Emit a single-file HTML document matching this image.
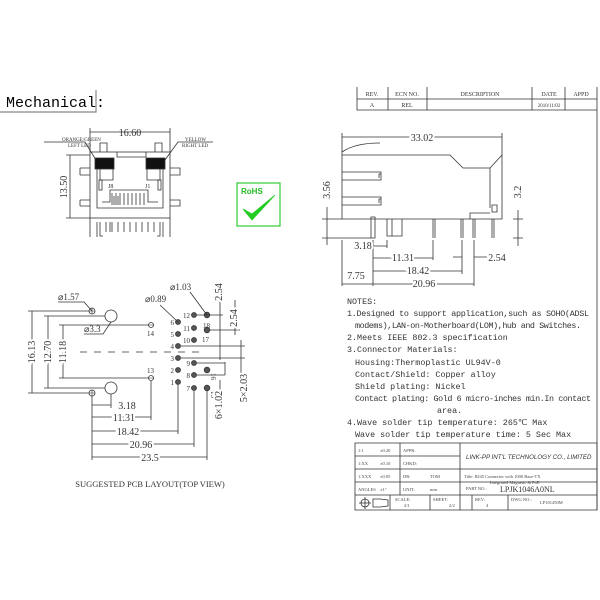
<!DOCTYPE html><html><head><style>body{margin:0;background:#fff}svg{display:block}</style></head><body>
<svg width="600" height="600" viewBox="0 0 600 600" xmlns="http://www.w3.org/2000/svg" font-family="Liberation Serif, serif" fill="none" stroke="#333" stroke-width="0.8">
<!-- header -->
<text x="6" y="107" font-family="Liberation Mono, monospace" font-size="15" fill="#000" stroke="none">Mechanical:</text>
<path d="M0 112H96V90" stroke="#888" stroke-width="1.2"/>
<!-- rev table -->
<path d="M357 87V110H597M357 99H597M388 87V110M427 87V110M532 87V110M565 87V110M597 87V510"/>
<g font-size="6" fill="#333" stroke="none" text-anchor="middle">
<text x="372" y="96">REV.</text><text x="407" y="96">ECN NO.</text><text x="480" y="96">DESCRIPTION</text><text x="549" y="96">DATE</text><text x="581" y="96">APPD</text>
<text x="372" y="107">A</text><text x="407" y="107">REL</text><text x="549" y="107" font-size="5">2010/11/02</text></g>
<!-- front view -->
<g>
<path d="M90 132H170M90 128V152M170 128V152"/>
<text x="130" y="136" font-size="10" fill="#333" stroke="none" text-anchor="middle" style="paint-order:stroke" stroke="#fff" stroke-width="4">16.60</text>
<text x="62" y="141" font-size="5" fill="#333" stroke="none">ORANGE/GREEN</text><text x="68" y="147" font-size="5" fill="#333" stroke="none">LEFT LED</text>
<path d="M44 142H85L96 160"/>
<text x="185" y="141" font-size="5" fill="#333" stroke="none">YELLOW</text><text x="182" y="147" font-size="5" fill="#333" stroke="none">RIGHT LED</text>
<path d="M213 142H178L165 160"/>
<path d="M100 152V143H107V152M155 152V143H162V152"/>
<rect x="90" y="152" width="80" height="66"/>
<path d="M117 152V157H146V152M97 158V208H163V158"/>
<rect x="95" y="158" width="19" height="11" fill="#111"/><rect x="146" y="158" width="19" height="11" fill="#111"/>
<path d="M100 169V180H113V169M147 169V180H160V169"/>
<rect x="99" y="180" width="3" height="10"/><rect x="158" y="180" width="3" height="10"/>
<path d="M102 202H110V190H148V202H158"/>
<path d="M112 193V205M116 193V205M120 193V205M124 193V205M128 193V205M132 193V205M136 193V205M140 193V205M144 193V205M114 196V205M118 196V205"/>
<path d="M80 168H90M80 175H90M80 168V175M80 200H90M80 206H90M80 200V206M170 168H180V175H170M170 200H180V206H170"/>
<path d="M90 218V237M170 218V237M97 222V237M163 222V237M100 222V236H103M160 222V236H157M106 222V232M112 222V232M118 222V232M124 222V232M130 222V232M136 222V232M142 222V232M148 222V232M154 222V232M110 222V232"/>
<text x="108" y="188" font-size="6" fill="#333" stroke="none">J8</text><text x="145" y="188" font-size="6" fill="#333" stroke="none">J1</text>
<path d="M70 155V218M66 155H90M66 218H90"/>
<text transform="translate(67,187) rotate(-90)" font-size="10" fill="#333" stroke="none" text-anchor="middle">13.50</text>
</g>
<!-- RoHS -->
<rect x="237" y="183" width="43" height="43" stroke="#3c3" stroke-width="1.2"/>
<text x="241" y="194" font-size="8" font-weight="bold" font-family="Liberation Sans, sans-serif" fill="#2b2" stroke="none">RoHS</text>
<path d="M243 209L252 220L275 195L252 214Z" fill="#2c2" stroke="#2c2"/>
<!-- side view -->
<g>
<path d="M342 137H502M342 133V219M502 133V155"/>
<text x="422" y="141" font-size="10" fill="#333" stroke="#fff" stroke-width="4" style="paint-order:stroke" text-anchor="middle">33.02</text>
<path d="M342 152Q355 143 380 143"/>
<path d="M342 155H450L463 168H490L502 155V219H342M490 168V208M470 219V213H490M492 205V212H497V205Z"/>
<path d="M342 172H381V180H342M342 197H381V205H342M381 174H379V178M381 199H379V203"/>
<path d="M371 217V238H375V217Z"/>
<path d="M387 219V236H402V219M392 219V236H397"/>
<path d="M433 219V238M435 219V238M461 219V238M463 219V238M473 219V238M475 219V238M492 219V238M494 219V238"/>
<path d="M322 219H342M322 238H371M327 207V245M513 219H523M513 238H523M518 210V246"/>
<text transform="translate(330,190) rotate(-90)" font-size="10" fill="#333" stroke="none" text-anchor="middle">3.56</text>
<text transform="translate(521,192) rotate(-90)" font-size="10" fill="#333" stroke="none" text-anchor="middle">3.2</text>
<path d="M373 240V286M342 240V286M387 240V248M433 240V260M462 240V274M474 240V286"/>
<path d="M373 246H387M373 258H433M373 271H462M474 257H505M453 257H462M342 284H373M373 284H474"/>
<g font-size="10" fill="#333" stroke="#fff" stroke-width="4" style="paint-order:stroke" text-anchor="middle">
<text x="363" y="249">3.18</text><text x="403" y="261">11.31</text><text x="418" y="274">18.42</text><text x="497" y="261">2.54</text><text x="356" y="279">7.75</text><text x="424" y="287">20.96</text></g>
</g>
<!-- PCB layout -->
<g>
<g fill="none">
<circle cx="92" cy="311" r="3"/><circle cx="111" cy="316" r="6"/><circle cx="151" cy="325" r="2.5"/>
<circle cx="151" cy="378" r="2.5"/><circle cx="111" cy="388" r="6"/><circle cx="92" cy="393" r="3"/>
</g>
<path d="M89 311H95M92 308V314M148 325H154M148 378H154M89 393H95M92 390V396" stroke-width="0.6"/>
<path d="M80 352H205" stroke-dasharray="7,7"/>
<g id="h" fill="#555">
<circle cx="178" cy="322" r="2.5"/><circle cx="178" cy="334" r="2.5"/><circle cx="178" cy="346" r="2.5"/><circle cx="178" cy="358" r="2.5"/><circle cx="178" cy="370" r="2.5"/><circle cx="178" cy="382" r="2.5"/>
<circle cx="194" cy="315" r="2.5"/><circle cx="194" cy="328" r="2.5"/><circle cx="194" cy="340" r="2.5"/><circle cx="194" cy="363" r="2.5"/><circle cx="194" cy="375" r="2.5"/><circle cx="194" cy="388" r="2.5"/>
<circle cx="207" cy="315" r="2.8"/><circle cx="207" cy="330" r="2.8"/><circle cx="207" cy="370" r="2.8"/><circle cx="207" cy="388" r="2.8"/>
</g>
<g font-size="7" fill="#333" stroke="none" text-anchor="end">
<text x="174" y="325">6</text><text x="174" y="337">5</text><text x="174" y="349">4</text><text x="174" y="361">3</text><text x="174" y="373">2</text><text x="174" y="385">1</text>
<text x="190" y="318">12</text><text x="190" y="331">11</text><text x="190" y="343">10</text><text x="190" y="366">9</text><text x="190" y="378">8</text><text x="190" y="391">7</text>
</g>
<g font-size="7" fill="#333" stroke="none">
<text x="203" y="328">18</text><text x="202" y="342">17</text><text x="147" y="336">14</text><text x="147" y="373">13</text>
<text transform="translate(211,373) rotate(90)">16</text><text transform="translate(211,391) rotate(90)">15</text></g>
<path d="M28 311H89M44 316H105M59 325H148M59 378H148M44 388H105M28 393H89"/>
<path d="M32 311V393M48 316V388M63 325V378"/>
<g font-size="10" fill="#333" stroke="#fff" stroke-width="4" style="paint-order:stroke" text-anchor="middle">
<text transform="translate(35,352) rotate(-90)">16.13</text><text transform="translate(51,352) rotate(-90)">12.70</text><text transform="translate(66,352) rotate(-90)">11.18</text></g>
<path d="M92 396V460M111 394V408M151 381V420M178 385V434M194 391V447M207 391V460"/>
<path d="M92 405H111M92 417H151M92 431H178M92 444H194M92 457H207"/>
<g font-size="10" fill="#333" stroke="#fff" stroke-width="4" style="paint-order:stroke" text-anchor="middle">
<text x="127" y="409">3.18</text><text x="124" y="421">11.31</text><text x="128" y="435">18.42</text><text x="141" y="448">20.96</text><text x="150" y="461">23.5</text></g>
<text x="58" y="300" font-size="9" fill="#333" stroke="none">⌀1.57</text><path d="M58 302H84L92 311"/>
<text x="145" y="302" font-size="9" fill="#333" stroke="none">⌀0.89</text><path d="M160 305L178 322"/>
<text x="170" y="290" font-size="9" fill="#333" stroke="none">⌀1.03</text><path d="M190 292L207 315"/>
<text x="84" y="332" font-size="9" fill="#333" stroke="none">⌀3.3</text><path d="M84 334H103L111 322"/>
<path d="M181 346H245M197 315H223M210 330H240M181 358H245M197 363H225M197 375H225"/>
<path d="M220 300V360M235 300V335M241 340V375M225 362V375M220 380V410"/>
<g font-size="10" fill="#333" stroke="#fff" stroke-width="4" style="paint-order:stroke" text-anchor="middle">
<text transform="translate(222,292) rotate(-90)">2.54</text><text transform="translate(237,318) rotate(-90)">2.54</text>
<text transform="translate(222,405) rotate(-90)">6×1.02</text><text transform="translate(247,388) rotate(-90)">5×2.03</text></g>
<text x="150" y="487" font-size="8.5" fill="#333" stroke="none" text-anchor="middle">SUGGESTED PCB LAYOUT(TOP VIEW)</text>
</g>
<!-- notes -->
<g font-family="Liberation Mono, monospace" font-size="8.4" fill="#333" stroke="none">
<text x="347" y="304">NOTES:</text>
<text x="347" y="316" textLength="242">1.Designed to support application,such as SOHO(ADSL</text>
<text x="355" y="328" textLength="226">modems),LAN-on-Motherboard(LOM),hub and Switches.</text>
<text x="347" y="340">2.Meets IEEE 802.3 specification</text>
<text x="347" y="352">3.Connector Materials:</text>
<text x="355" y="365">Housing:Thermoplastic UL94V-0</text>
<text x="355" y="377">Contact/Shield: Copper alloy</text>
<text x="355" y="389">Shield plating: Nickel</text>
<text x="355" y="401" textLength="236">Contact plating: Gold 6 micro-inches min.In contact</text>
<text x="437" y="413">area.</text>
<text x="347" y="425">4.Wave solder tip temperature: 265℃ Max</text>
<text x="355" y="437">Wave solder tip temperature time: 5 Sec Max</text>
</g>
<!-- title block -->
<path d="M355 443H597V510H355ZM355 456H460M355 469H597M355 482H597M355 495H597M400 443V495M460 443V510M390 495V510M430 495V510M472 495V510M508 495V510"/>
<g font-size="4.5" fill="#444" stroke="none">
<text x="358" y="452">1:1</text><text x="380" y="452">±0.20</text><text x="403" y="452">APPR:</text>
<text x="358" y="465">1:XX</text><text x="380" y="465">±0.10</text><text x="403" y="465">CHKD:</text>
<text x="358" y="478">1:XXX</text><text x="380" y="478">±0.05</text><text x="403" y="478">DR:</text><text x="430" y="478">TOM</text>
<text x="358" y="491">ANGLES</text><text x="380" y="491">±1°</text><text x="403" y="491">UNIT:</text><text x="430" y="491">mm</text>
<text x="395" y="501">SCALE:</text><text x="404" y="507">2/1</text><text x="433" y="501">SHEET:</text><text x="449" y="507">2/2</text>
<text x="475" y="501">REV:</text><text x="486" y="507">4</text><text x="511" y="501">DWG NO.:</text><text x="540" y="504">LP101450M</text>
<text x="464" y="478">Title: RJ45 Connector with 1000 Base-TX</text><text x="490" y="484">Integrated Magnetic &amp; PoE</text>
<text x="466" y="490">PART NO.:</text>
</g>
<text x="466" y="459" font-size="6.2" font-style="italic" font-family="Liberation Sans, sans-serif" fill="#333" stroke="none">LINK-PP INT'L TECHNOLOGY CO., LIMITED</text>
<text x="500" y="492" font-size="8" fill="#333" stroke="none">LPJK1046A0NL</text>
<circle cx="365" cy="503" r="4"/><path d="M359 503H371M365 497V509M373 499H380L388 500V506L380 507H373Z"/>
</svg>
</body></html>
